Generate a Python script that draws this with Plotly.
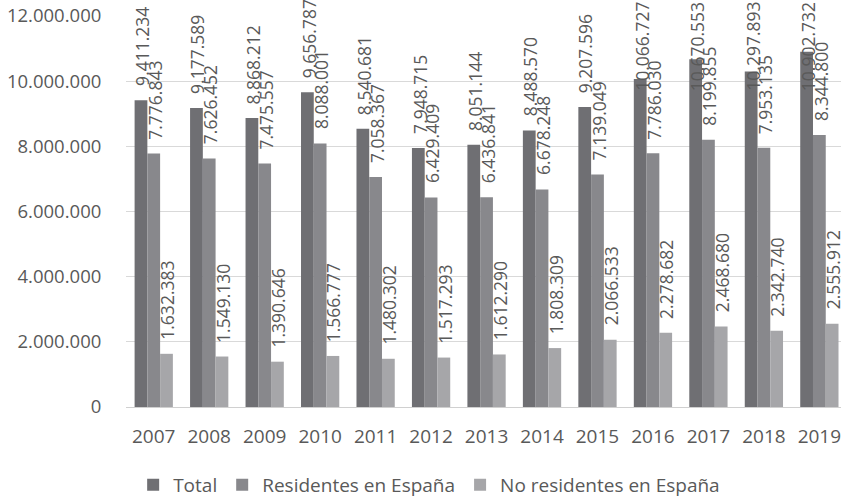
import plotly.graph_objects as go

years = ["2007", "2008", "2009", "2010", "2011", "2012", "2013", "2014", "2015", "2016", "2017", "2018", "2019"]
total = [9411234, 9177589, 8868212, 9656787, 8540681, 7948715, 8051144, 8488570, 9207596, 10066727, 10670553, 10297893, 10902732]
residentes = [7776843, 7626452, 7475557, 8088001, 7058367, 6429409, 6436841, 6678248, 7139049, 7786030, 8199855, 7953135, 8344800]
no_residentes = [1632383, 1549130, 1390646, 1566777, 1480302, 1517293, 1612290, 1808309, 2066533, 2278682, 2468680, 2342740, 2555912]

series = [
    ("Total", total, "#6f6f73", -12.7),
    ("Residentes en España", residentes, "#88888c", 0.0),
    ("No residentes en España", no_residentes, "#a6a6a9", 12.7),
]

FONT = "Open Sans"
TXT = "#595959"
Y_MAX = 12000000
TOP_M, BOT_M, H = 16, 92, 499
PLOT_H = H - TOP_M - BOT_M
GAP = 12

fig = go.Figure()
annotations = []
for name, vals, col, dx in series:
    fig.add_trace(go.Bar(x=years, y=vals, name=name, marker_color=col,
                         marker_line_width=0))
    for i, v in enumerate(vals):
        txt = f"{v:,}".replace(",", ".")
        # like the source chart, labels that would run off the top are pulled down to fit
        est_len = 8.7 * len(txt)
        bar_top_px = TOP_M + (Y_MAX - v) * PLOT_H / Y_MAX
        if bar_top_px - GAP - est_len < 0:
            ann = dict(y=Y_MAX, yanchor="top", yshift=TOP_M)
        else:
            ann = dict(y=v, yanchor="bottom", yshift=GAP)
        annotations.append(dict(
            x=i, xref="x", yref="y", text=txt, textangle=-90, showarrow=False,
            xanchor="center", xshift=dx + 1.0,
            font=dict(family=FONT, size=17.5, color=TXT), **ann))

fig.update_layout(
    width=841, height=H,
    margin=dict(l=126, r=0, t=TOP_M, b=BOT_M, autoexpand=False),
    paper_bgcolor="white", plot_bgcolor="white",
    barmode="group", bargap=0.31, bargroupgap=0,
    separators=",.",
    font=dict(family=FONT, size=17, color=TXT),
    showlegend=True,
    legend=dict(orientation="h", x=0.424, xanchor="center", y=-0.1995, yanchor="middle",
                font=dict(family=FONT, size=19, color=TXT)),
    annotations=annotations,
)
fig.update_xaxes(type="category", range=[-0.5, 12.39], showgrid=False, showline=True,
                 linecolor="#d0d0d0", linewidth=1, automargin=False,
                 ticks="outside", ticklen=12, tickcolor="rgba(0,0,0,0)",
                 ticklabeloverflow="allow",
                 tickfont=dict(family=FONT, size=19, color=TXT))
fig.update_yaxes(range=[0, Y_MAX], dtick=2000000, tickformat=",d", showgrid=True,
                 gridcolor="#d9d9d9", gridwidth=1, zeroline=False, showline=False,
                 automargin=False, ticks="outside", ticklen=20, tickcolor="rgba(0,0,0,0)",
                 ticklabeloverflow="allow",
                 tickfont=dict(family=FONT, size=18.5, color=TXT))

fig.write_html("out.html", config={"displayModeBar": False},
               post_script="document.body.style.margin='0';document.body.style.overflow='hidden';")
